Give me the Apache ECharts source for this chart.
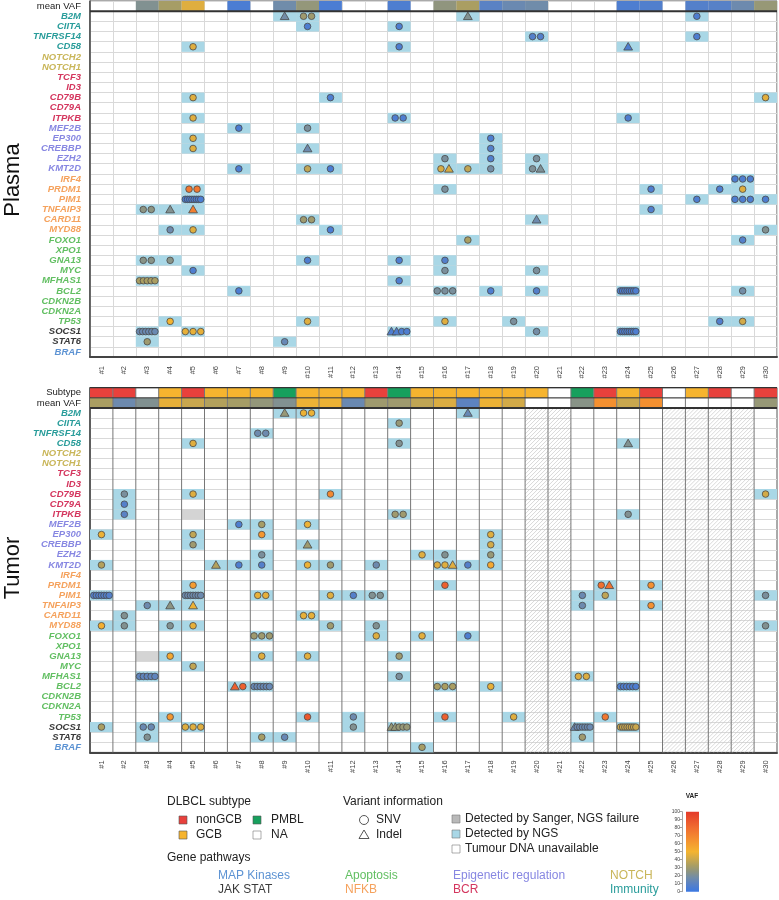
<!DOCTYPE html>
<html><head><meta charset="utf-8">
<script src="https://cdn.jsdelivr.net/npm/echarts@6/dist/echarts.min.js"></script>
<style>html,body{margin:0;padding:0;background:#fff}#c{width:779px;height:900px}</style>
</head><body><div id="c"></div><script>
const patients = ['#1','#2','#3','#4','#5','#6','#7','#8','#9','#10','#11','#12','#13','#14','#15','#16','#17','#18','#19','#20','#21','#22','#23','#24','#25','#26','#27','#28','#29','#30'];
const genes = ['B2M','CIITA','TNFRSF14','CD58','NOTCH2','NOTCH1','TCF3','ID3','CD79B','CD79A','ITPKB','MEF2B','EP300','CREBBP','EZH2','KMT2D','IRF4','PRDM1','PIM1','TNFAIP3','CARD11','MYD88','FOXO1','XPO1','GNA13','MYC','MFHAS1','BCL2','CDKN2B','CDKN2A','TP53','SOCS1','STAT6','BRAF'];
const geneGroup = ['imm','imm','imm','imm','notch','notch','bcr','bcr','bcr','bcr','bcr','epi','epi','epi','epi','epi','nfkb','nfkb','nfkb','nfkb','nfkb','nfkb','apo','apo','apo','apo','apo','apo','apo','apo','apo','jak','jak','mapk'];
const groupColor = {imm:'#2a9d9b', notch:'#c9b65a', bcr:'#d4365e', epi:'#8787e2', nfkb:'#f5a25d', apo:'#62bf62', jak:'#3a3a3a', mapk:'#5d93d3'};
const pathwayNames = [['MAP Kinases','mapk'],['JAK STAT','jak'],['Apoptosis','apo'],['NFKB','nfkb'],['Epigenetic regulation','epi'],['BCR','bcr'],['NOTCH','notch'],['Immunity','imm']];
const plasmaRows = ['mean VAF'].concat(genes);
const tumorRows = ['Subtype','mean VAF'].concat(genes);

const plasmaMeanVaf = [null,null,22,32,45,null,5,null,17,27,5,null,null,6,null,26,33,10,15,17,null,null,null,6,7,null,8,9,16,28];
const tumorMeanVaf = [33,16,22,47,40,35,32,27,22,48,48,15,30,30,38,44,11,48,42,null,null,24,65,40,65,null,null,null,null,28];
const tumorSubtype = ['nonGCB','nonGCB','NA','GCB','nonGCB','GCB','GCB','GCB','PMBL','GCB','GCB','GCB','nonGCB','PMBL','GCB','GCB','GCB','GCB','GCB','GCB','NA','PMBL','nonGCB','GCB','nonGCB','NA','GCB','nonGCB','NA','nonGCB'];
const subtypeColors = {nonGCB:'#e8413c', GCB:'#f6b42f', PMBL:'#17a05d', NA:'#ffffff'};

// [patient number, gene, variant types (c = SNV, t = indel), VAF %]
const plasmaVariants = [
 [9,'B2M','t',18],[10,'B2M','cc',30],[17,'B2M','t',22],[27,'B2M','c',6],
 [10,'CIITA','c',6],[14,'CIITA','c',6],
 [20,'TNFRSF14','cc',8],[27,'TNFRSF14','c',6],
 [5,'CD58','c',45],[14,'CD58','c',6],[24,'CD58','t',6],
 [5,'CD79B','c',45],[11,'CD79B','c',6],[30,'CD79B','c',46],
 [5,'ITPKB','c',45],[14,'ITPKB','cc',6],[24,'ITPKB','c',6],
 [7,'MEF2B','c',5],[10,'MEF2B','c',20],
 [5,'EP300','c',45],[18,'EP300','c',6],
 [5,'CREBBP','c',45],[10,'CREBBP','t',16],[18,'CREBBP','c',8],
 [16,'EZH2','c',20],[18,'EZH2','c',7],[20,'EZH2','c',20],
 [7,'KMT2D','c',5],[10,'KMT2D','c',38],[11,'KMT2D','c',5],[16,'KMT2D','ct',43],[17,'KMT2D','c',38],[18,'KMT2D','c',18],[20,'KMT2D','ct',21],
 [29,'IRF4','ccc',6],
 [5,'PRDM1','cc',75],[16,'PRDM1','c',20],[25,'PRDM1','c',6],[28,'PRDM1','c',6],[29,'PRDM1','c',45],
 [5,'PIM1','cccccccc',5],[27,'PIM1','c',6],[29,'PIM1','ccc',6],[30,'PIM1','c',6],
 [3,'TNFAIP3','cc',25],[4,'TNFAIP3','t',22],[5,'TNFAIP3','t',72],[25,'TNFAIP3','c',7],
 [10,'CARD11','cc',30],[20,'CARD11','t',16],
 [4,'MYD88','c',16],[5,'MYD88','c',45],[11,'MYD88','c',5],[30,'MYD88','c',22],
 [17,'FOXO1','c',33],[29,'FOXO1','c',8],
 [3,'GNA13','cc',24],[4,'GNA13','c',24],[10,'GNA13','c',6],[14,'GNA13','c',6],[16,'GNA13','c',8],
 [5,'MYC','c',6],[16,'MYC','c',20],[20,'MYC','c',20],
 [3,'MFHAS1','ccccc',33],[14,'MFHAS1','c',6],
 [7,'BCL2','c',5],[16,'BCL2','ccc',20],[18,'BCL2','c',6],[20,'BCL2','c',8],[24,'BCL2','cccccccc',6],[29,'BCL2','c',18],
 [4,'TP53','c',50],[10,'TP53','c',45],[16,'TP53','c',45],[19,'TP53','c',20],[28,'TP53','c',7],[29,'TP53','c',42],
 [3,'SOCS1','cccccc',15],[5,'SOCS1','ccc',47],[14,'SOCS1','ttcc',6],[20,'SOCS1','c',18],[24,'SOCS1','cccccccc',6],
 [3,'STAT6','c',30],[9,'STAT6','c',14]
];
const tumorVariants = [
 [9,'B2M','t',28],[10,'B2M','cc',48],[17,'B2M','t',14],
 [14,'CIITA','c',28],
 [8,'TNFRSF14','cc',16],
 [5,'CD58','c',45],[14,'CD58','c',22],[24,'CD58','t',22],
 [2,'CD79B','c',20],[5,'CD79B','c',45],[11,'CD79B','c',68],[30,'CD79B','c',42],
 [2,'CD79A','c',8],
 [2,'ITPKB','c',10],[14,'ITPKB','cc',30],[24,'ITPKB','c',22],
 [7,'MEF2B','c',6],[8,'MEF2B','c',32],[10,'MEF2B','c',48],
 [1,'EP300','c',48],[5,'EP300','c',38],[8,'EP300','c',62],[18,'EP300','c',45],
 [5,'CREBBP','c',30],[10,'CREBBP','t',30],[18,'CREBBP','c',42],
 [8,'EZH2','c',20],[15,'EZH2','c',45],[16,'EZH2','c',22],[18,'EZH2','c',28],
 [1,'KMT2D','c',35],[6,'KMT2D','t',35],[7,'KMT2D','c',6],[8,'KMT2D','c',8],[10,'KMT2D','c',48],[11,'KMT2D','c',30],[13,'KMT2D','c',16],[16,'KMT2D','cct',45],[17,'KMT2D','c',8],[18,'KMT2D','c',55],
 [5,'PRDM1','c',60],[16,'PRDM1','c',85],[23,'PRDM1','ct',78],[25,'PRDM1','c',65],
 [1,'PIM1','ccccccc',8],[5,'PIM1','ccccccc',16],[8,'PIM1','cc',47],[11,'PIM1','c',45],[12,'PIM1','c',8],[13,'PIM1','cc',22],[22,'PIM1','c',15],[23,'PIM1','c',38],[30,'PIM1','c',20],
 [3,'TNFAIP3','c',16],[4,'TNFAIP3','t',25],[5,'TNFAIP3','t',48],[22,'TNFAIP3','c',16],[25,'TNFAIP3','c',65],
 [2,'CARD11','c',22],[10,'CARD11','cc',47],
 [1,'MYD88','c',52],[2,'MYD88','c',22],[4,'MYD88','c',22],[5,'MYD88','c',47],[11,'MYD88','c',30],[13,'MYD88','c',22],[30,'MYD88','c',22],
 [8,'FOXO1','ccc',30],[13,'FOXO1','c',45],[15,'FOXO1','c',46],[17,'FOXO1','c',6],
 [4,'GNA13','c',55],[8,'GNA13','c',45],[10,'GNA13','c',46],[14,'GNA13','c',30],
 [5,'MYC','c',38],
 [3,'MFHAS1','ccccc',12],[14,'MFHAS1','c',20],[22,'MFHAS1','cc',44],
 [7,'BCL2','tc',85],[8,'BCL2','cccccc',14],[16,'BCL2','ccc',33],[18,'BCL2','c',47],[24,'BCL2','cccccc',6],
 [4,'TP53','c',62],[10,'TP53','c',88],[12,'TP53','c',16],[16,'TP53','c',85],[19,'TP53','c',45],[23,'TP53','c',75],
 [1,'SOCS1','c',33],[3,'SOCS1','cc',15],[5,'SOCS1','ccc',45],[12,'SOCS1','c',22],[14,'SOCS1','ttccc',28],[22,'SOCS1','tcccccc',15],[24,'SOCS1','cccccccc',40],
 [3,'STAT6','c',22],[8,'STAT6','c',32],[9,'STAT6','c',14],[22,'STAT6','c',30],
 [15,'BRAF','c',32]
];
const tumorSanger = [[5,'ITPKB'],[3,'GNA13']];
const tumorUnavailable = [20,21,26,27,28,29];
const vafTicks = [0,10,20,30,40,50,60,70,80,90,100];
const vafStops = [[0,'#3b78e2'],[10,'#5a82c4'],[18,'#738da6'],[25,'#8c9482'],[33,'#aa9e62'],[42,'#d2aa48'],[50,'#f4b430'],[65,'#f49030'],[80,'#f06c30'],[100,'#e43a2a']];

function hex(c){return [parseInt(c.slice(1,3),16),parseInt(c.slice(3,5),16),parseInt(c.slice(5,7),16)];}
function vafColor(v){
  for(let i=1;i<vafStops.length;i++){
    if(v<=vafStops[i][0]){
      const a=vafStops[i-1], b=vafStops[i]; const t=(v-a[0])/(b[0]-a[0]);
      const ca=hex(a[1]), cb=hex(b[1]);
      return 'rgb('+ca.map((x,k)=>Math.round(x+(cb[k]-x)*t)).join(',')+')';
    }
  }
  return vafStops[vafStops.length-1][1];
}
const FONT = '"Liberation Sans", Arial, Helvetica, sans-serif';
const NGS = '#a9d7e6', SANGER = '#d4d4d4';

function cellSeries(grid, items, colors, z, stroke){
  return {type:'custom', xAxisIndex:grid, yAxisIndex:grid, z:z, silent:true, encode:{x:0,y:1},
    data:items,
    renderItem:(params, api)=>{
      const c=api.coord([api.value(0),api.value(1)]), s=api.size([1,1]);
      return {type:'rect', shape:{x:c[0]-s[0]/2,y:c[1]-s[1]/2,width:s[0],height:s[1]},
        style:{fill:colors[params.dataIndex], stroke:stroke||null, lineWidth:stroke?0.5:0}};
    }};
}
function groupVariants(list, rows){
  return list.map(v=>({x:v[0]-1, y:rows.indexOf(v[1]), types:v[2], vaf:v[3]}));
}
function markerSeries(grid, groups){
  return {type:'custom', xAxisIndex:grid, yAxisIndex:grid, z:6, silent:true, encode:{x:0,y:1},
    data:groups.map(g=>[g.x,g.y]),
    renderItem:(params, api)=>{
      const g=groups[params.dataIndex];
      const c=api.coord([api.value(0),api.value(1)]), s=api.size([1,1]);
      const n=g.types.length; const step=n>1?Math.min(8,(s[0]-7.5)/(n-1)):0;
      const x0=c[0]-step*(n-1)/2, y=c[1]; const fill=vafColor(g.vaf);
      const children=[];
      for(let k=0;k<n;k++){
        const x=x0+k*step;
        if(g.types[k]==='t') children.push({type:'polygon',shape:{points:[[x,y-4.3],[x-4.4,y+3.3],[x+4.4,y+3.3]]},style:{fill,stroke:'#4a4a4a',lineWidth:0.8}});
        else children.push({type:'circle',shape:{cx:x,cy:y,r:3.3},style:{fill,stroke:'#4a4a4a',lineWidth:0.8}});
      }
      return {type:'group',children};
    }};
}

const plasmaGroups = groupVariants(plasmaVariants, plasmaRows);
const tumorGroups = groupVariants(tumorVariants, tumorRows);

// plasma header
const pMeanItems=[], pMeanCols=[];
plasmaMeanVaf.forEach((v,i)=>{ if(v!==null){pMeanItems.push([i,0]); pMeanCols.push(vafColor(v));} });
// tumor header
const tSubItems=[], tSubCols=[];
tumorSubtype.forEach((s,i)=>{ if(s!=='NA'){tSubItems.push([i,0]); tSubCols.push(subtypeColors[s]);} });
const tMeanItems=[], tMeanCols=[];
tumorMeanVaf.forEach((v,i)=>{ if(v!==null){tMeanItems.push([i,1]); tMeanCols.push(vafColor(v));} });
// backgrounds
const pBg = plasmaGroups.map(g=>[g.x,g.y]); const pBgCols = pBg.map(()=>NGS);
const tBg = tumorGroups.map(g=>[g.x,g.y]).concat(tumorSanger.map(s=>[s[0]-1, tumorRows.indexOf(s[1])]));
const tBgCols = tumorGroups.map(()=>NGS).concat(tumorSanger.map(()=>SANGER));

function labelCfg(margin){
  const rich={h:{fontSize:9.5,color:'#222',fontFamily:FONT}};
  Object.keys(groupColor).forEach(k=>{rich[k]={fontSize:9.5,color:groupColor[k],fontStyle:'italic',fontWeight:'bold',fontFamily:FONT};});
  return {interval:0, margin:margin, rich,
    formatter:(v)=>{const gi=genes.indexOf(v); return gi<0?'{h|'+v+'}':'{'+geneGroup[gi]+'|'+v+'}';}};
}

const option = {
  animation:false,
  backgroundColor:'#fff',
  grid:[
    {left:90, top:1, width:687, height:356, show:true, borderColor:'#555', borderWidth:1, backgroundColor:'transparent'},
    {left:90, top:387.7, width:687, height:364.7, show:true, borderColor:'#555', borderWidth:1, backgroundColor:'transparent'},
    {left:686, top:811.7, width:13, height:80}
  ],
  xAxis:[
    {gridIndex:0, type:'category', data:patients, axisLine:{lineStyle:{color:'#444',width:2}}, axisTick:{show:false},
     axisLabel:{rotate:90, fontSize:7.5, color:'#444', margin:9, interval:0, fontFamily:FONT},
     splitLine:{show:true, interval:0, lineStyle:{color:'#d9d9d9', width:1}}},
    {gridIndex:1, type:'category', data:patients, axisLine:{lineStyle:{color:'#444',width:2}}, axisTick:{show:false},
     axisLabel:{rotate:90, fontSize:7.5, color:'#444', margin:8, interval:0, fontFamily:FONT},
     splitLine:{show:false}},
    {gridIndex:2, type:'category', data:['VAF'], show:false}
  ],
  yAxis:[
    {gridIndex:0, type:'category', data:plasmaRows, inverse:true, axisLine:{lineStyle:{color:'#444',width:1.5}}, axisTick:{show:false},
     axisLabel:labelCfg(9), splitLine:{show:true, interval:0, lineStyle:{color:'#d9d9d9', width:1}}},
    {gridIndex:1, type:'category', data:tumorRows, inverse:true, axisLine:{lineStyle:{color:'#444',width:1.5}}, axisTick:{show:false},
     axisLabel:labelCfg(9), splitLine:{show:true, interval:0, lineStyle:{color:'#d9d9d9', width:1}}},
    {gridIndex:2, type:'value', min:0, max:100, interval:10, offset:4,
     axisLine:{show:true, lineStyle:{color:'#666', width:0.6}}, axisTick:{show:true, length:2.5, lineStyle:{color:'#666',width:0.6}},
     axisLabel:{fontSize:5, margin:2, color:'#444', fontFamily:FONT, customValues:vafTicks}, splitLine:{show:false}}
  ],
  series:[
    cellSeries(0, pMeanItems, pMeanCols, 2),
    cellSeries(0, pBg, pBgCols, 2),
    {type:'custom', xAxisIndex:0, yAxisIndex:0, z:5, silent:true, encode:{x:0,y:1}, data:[[0,0]],
     renderItem:(p,api)=>{const c=api.coord([0,0]), s=api.size([1,1]); const y=c[1]+s[1]/2;
       const e=api.coord([patients.length-1,0]);
       return {type:'line', shape:{x1:c[0]-s[0]/2,y1:y,x2:e[0]+s[0]/2,y2:y}, style:{stroke:'#333',lineWidth:2}};}},
    markerSeries(0, plasmaGroups),

    cellSeries(1, tSubItems, tSubCols, 2),
    cellSeries(1, tMeanItems, tMeanCols, 2),
    {type:'custom', xAxisIndex:1, yAxisIndex:1, z:2, silent:true, encode:{x:0,y:1},
     data:tumorUnavailable.map(p=>[p-1,2]),
     renderItem:(p,api)=>{
       const xi=api.value(0); const a=api.coord([xi,2]), b=api.coord([xi,tumorRows.length-1]), s=api.size([1,1]);
       const L=a[0]-s[0]/2, R=a[0]+s[0]/2, T=a[1]-s[1]/2, B=b[1]+s[1]/2;
       const ch=[];
       for(let C=L+T+2; C<R+B; C+=4){
         const x1=Math.max(L,C-B), x2=Math.min(R,C-T);
         if(x2>x1) ch.push({type:'line',shape:{x1:x1,y1:C-x1,x2:x2,y2:C-x2},style:{stroke:'#c9c9c9',lineWidth:0.7}});
       }
       return {type:'group',children:ch};
     }},
    cellSeries(1, tBg, tBgCols, 3),
    {type:'custom', xAxisIndex:1, yAxisIndex:1, z:4, silent:true, encode:{x:0,y:1},
     data:patients.slice(0,patients.length-1).map((p,i)=>[i,0]),
     renderItem:(p,api)=>{
       const xi=api.value(0); const a=api.coord([xi,0]), b=api.coord([xi,tumorRows.length-1]), s=api.size([1,1]);
       const x=a[0]+s[0]/2;
       return {type:'line', shape:{x1:x,y1:a[1]-s[1]/2,x2:x,y2:b[1]+s[1]/2}, style:{stroke:'#777',lineWidth:1}};
     }},
    {type:'custom', xAxisIndex:1, yAxisIndex:1, z:5, silent:true, encode:{x:0,y:1}, data:[[0,0]],
     renderItem:(p,api)=>{const c=api.coord([0,0]), d=api.coord([0,1]), s=api.size([1,1]);
       const e=api.coord([patients.length-1,0]); const L=c[0]-s[0]/2, R=e[0]+s[0]/2;
       return {type:'group', children:[
         {type:'line', shape:{x1:L,y1:c[1]+s[1]/2,x2:R,y2:c[1]+s[1]/2}, style:{stroke:'#333',lineWidth:1}},
         {type:'line', shape:{x1:L,y1:d[1]+s[1]/2,x2:R,y2:d[1]+s[1]/2}, style:{stroke:'#333',lineWidth:2}},
         {type:'line', shape:{x1:L,y1:c[1]-s[1]/2,x2:R,y2:c[1]-s[1]/2}, style:{stroke:'#333',lineWidth:1.2}}
       ]};}},
    markerSeries(1, tumorGroups),

    {type:'custom', xAxisIndex:2, yAxisIndex:2, silent:true, encode:{x:0,y:1}, data:[[0,0]],
     renderItem:(p,api)=>{const a=api.coord([0,0]), b=api.coord([0,100]), s=api.size([1,1]);
       return {type:'rect', shape:{x:a[0]-s[0]/2, y:b[1], width:s[0], height:a[1]-b[1]},
         style:{fill:{type:'linear',x:0,y:1,x2:0,y2:0,colorStops:vafStops.map(st=>({offset:st[0]/100,color:st[1]}))}}};}}
  ],
  graphic:[]
};

const G = option.graphic;
function txt(x,y,t,opts){G.push(Object.assign({type:'text', x, y, silent:true, style:Object.assign({text:t, fill:'#222', font:'12px '+FONT, textVerticalAlign:'middle', textAlign:'left'}, opts||{})}));}
function sq(x,y,fill,stroke){G.push({type:'rect', silent:true, shape:{x,y,width:8,height:8}, style:{fill, stroke:stroke||'#555', lineWidth:0.6}});}
G.push({type:'text', x:13, y:180, rotation:Math.PI/2, silent:true, style:{text:'Plasma', font:'22px '+FONT, fill:'#111', textAlign:'center', textVerticalAlign:'middle'}});
G.push({type:'text', x:13, y:568, rotation:Math.PI/2, silent:true, style:{text:'Tumor', font:'22px '+FONT, fill:'#111', textAlign:'center', textVerticalAlign:'middle'}});
txt(167,802,'DLBCL subtype');
sq(179,816,subtypeColors.nonGCB); txt(196,820,'nonGCB');
sq(253,816,subtypeColors.PMBL); txt(271,820,'PMBL');
sq(179,831,subtypeColors.GCB); txt(196,835,'GCB');
sq(253,831,subtypeColors.NA,'#777'); txt(271,835,'NA');
txt(343,802,'Variant information');
G.push({type:'circle', silent:true, shape:{cx:364,cy:820,r:4.5}, style:{fill:'#fff',stroke:'#444',lineWidth:0.9}});
txt(376,820,'SNV');
G.push({type:'polygon', silent:true, shape:{points:[[364,830],[359,838.5],[369,838.5]]}, style:{fill:'#fff',stroke:'#444',lineWidth:0.9}});
txt(376,835,'Indel');
sq(452,815,'#b9b9b9','#777'); txt(465,819,'Detected by Sanger, NGS failure');
sq(452,830,NGS,'#777'); txt(465,834,'Detected by NGS');
sq(452,845,'#ffffff','#777'); txt(465,849,'Tumour DNA unavailable');
txt(167,858,'Gene pathways');
const pwPos = [[218,876],[218,890],[345,876],[345,890],[453,876],[453,890],[610,876],[610,890]];
pathwayNames.forEach((p,i)=>txt(pwPos[i][0],pwPos[i][1],p[0],{fill:groupColor[p[1]]}));
txt(692,796,'VAF',{font:'bold 6.5px '+FONT, textAlign:'center'});

const chart = echarts.init(document.getElementById('c'), null, {renderer:'canvas'});
chart.setOption(option);
</script></body></html>
